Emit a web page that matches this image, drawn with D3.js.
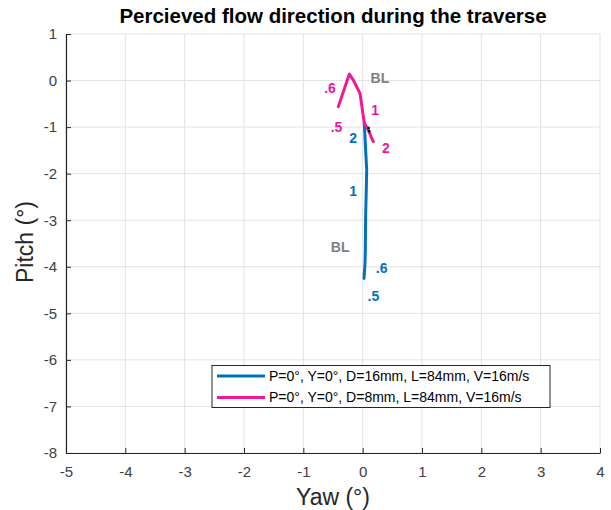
<!DOCTYPE html>
<html>
<head>
<meta charset="utf-8">
<script src="https://cdn.jsdelivr.net/npm/d3@7"></script>
<style>
  html, body { margin: 0; padding: 0; background: #fff; }
  svg { display: block; font-family: "Liberation Sans", Arial, Helvetica, sans-serif; }
</style>
</head>
<body>
<svg id="chart" width="611" height="510"></svg>
<script>
// Flow direction traces (yaw, pitch in degrees)
const series16Yaw   = [0.028, 0.05, 0.068, 0.06, 0.05, 0.045, 0.04, 0.023];
const series16Pitch = [-0.92, -1.49, -1.92, -2.4, -2.92, -3.64, -3.92, -4.25];
const series8Yaw    = [-0.41, -0.225, -0.158, -0.045, 0.028, 0.095, 0.152, 0.18];
const series8Pitch  = [-0.56, 0.14, 0.012, -0.274, -0.92, -1.06, -1.24, -1.31];

const seriesNames  = ["P=0°, Y=0°, D=16mm, L=84mm, V=16m/s", "P=0°, Y=0°, D=8mm, L=84mm, V=16m/s"];
const seriesColors = ["#0072bd", "#f0189a"];

// Small black markers near the start of the traverse
const markerYaw   = [0.1, 0.11];
const markerPitch = [-1.02, -1.09];

// Annotations along the traces
const annoText  = [".6", "BL", "1", ".5", "2", "2", "1", "BL", ".6", ".5"];
const annoYaw   = [-0.55, 0.29, 0.21, -0.44, -0.16, 0.39, -0.16, -0.38, 0.32, 0.18];
const annoPitch = [-0.17, 0.05, -0.63, -0.99, -1.24, -1.455, -2.37, -3.57, -4.03, -4.64];
const annoKind  = ["p", "g", "p", "p", "b", "p", "b", "g", "b", "b"];

const xTicks = [-5, -4, -3, -2, -1, 0, 1, 2, 3, 4];
const yTicks = [1, 0, -1, -2, -3, -4, -5, -6, -7, -8];

const svg = d3.select("#chart");
const m = { left: 66, right: 600, top: 34, bottom: 453 };

const x = d3.scaleLinear().domain([-5, 4]).range([m.left, m.right]);
const y = d3.scaleLinear().domain([-8, 1]).range([m.bottom, m.top]);

// grid
const grid = svg.append("g");
grid.selectAll("line.gx").data(xTicks).join("line")
  .attr("x1", d => x(d)).attr("x2", d => x(d))
  .attr("y1", m.top).attr("y2", m.bottom)
  .attr("stroke", "#e3e3e3").attr("stroke-width", 1);
grid.selectAll("line.gy").data(yTicks).join("line")
  .attr("x1", m.left).attr("x2", m.right)
  .attr("y1", d => y(d)).attr("y2", d => y(d))
  .attr("stroke", "#e3e3e3").attr("stroke-width", 1);

// axes
const axColor = "#262626";
const fmt = d => String(d);
const xAxis = svg.append("g").attr("transform", `translate(0,${m.bottom})`)
  .call(d3.axisBottom(x).tickValues(xTicks).tickSizeInner(-5).tickSizeOuter(0).tickPadding(10).tickFormat(fmt));
const yAxis = svg.append("g").attr("transform", `translate(${m.left},0)`)
  .call(d3.axisLeft(y).tickValues(yTicks).tickSizeInner(-5).tickSizeOuter(0).tickPadding(9).tickFormat(fmt));
[xAxis, yAxis].forEach(a => {
  a.select(".domain").attr("stroke", axColor).attr("stroke-width", 1.2);
  a.selectAll(".tick line").attr("stroke", axColor);
  a.selectAll(".tick text").attr("fill", "#404040").style("font-size", "15px")
    .style("font-family", "Liberation Sans, Arial, sans-serif");
});
xAxis.selectAll(".tick text").attr("dy", "0.9em");

// traces
const line = d3.line().x(d => x(d[0])).y(d => y(d[1]));
const data16 = series16Yaw.map((v, i) => [v, series16Pitch[i]]);
const data8  = series8Yaw.map((v, i) => [v, series8Pitch[i]]);
svg.append("path").datum(data16).attr("d", line)
  .attr("fill", "none").attr("stroke", seriesColors[0]).attr("stroke-width", 3)
  .attr("stroke-linejoin", "round").attr("stroke-linecap", "round");
svg.append("path").datum(data8).attr("d", line)
  .attr("fill", "none").attr("stroke", seriesColors[1]).attr("stroke-width", 3)
  .attr("stroke-linejoin", "round").attr("stroke-linecap", "round");

svg.selectAll("circle.mk").data(markerYaw).join("circle")
  .attr("cx", (d, i) => x(d)).attr("cy", (d, i) => y(markerPitch[i]))
  .attr("r", 1.3).attr("fill", "#000");

// annotations
const kindColor = { p: seriesColors[1], b: seriesColors[0], g: "#808080" };
svg.selectAll("text.anno").data(annoText).join("text")
  .attr("x", (d, i) => x(annoYaw[i])).attr("y", (d, i) => y(annoPitch[i]))
  .attr("text-anchor", "middle").attr("dy", "0.35em")
  .attr("fill", (d, i) => kindColor[annoKind[i]])
  .style("font-weight", "bold").style("font-size", "14px")
  .text(d => d);

// title and axis labels
svg.append("text").attr("x", 333).attr("y", 23).attr("text-anchor", "middle")
  .style("font-weight", "bold").style("font-size", "20.5px").attr("fill", "#000")
  .text("Percieved flow direction during the traverse");
svg.append("text").attr("x", 333).attr("y", 505).attr("text-anchor", "middle")
  .style("font-size", "23px").attr("fill", "#262626").text("Yaw (°)");
svg.append("text").attr("transform", "translate(33,242) rotate(-90)").attr("text-anchor", "middle")
  .style("font-size", "23px").attr("fill", "#262626").text("Pitch (°)");

// legend
const lg = svg.append("g");
lg.append("rect").attr("x", 212).attr("y", 365.5).attr("width", 338).attr("height", 42)
  .attr("fill", "#fff").attr("stroke", "#262626").attr("stroke-width", 1);
seriesNames.forEach((name, i) => {
  const yy = 376 + i * 21.5;
  lg.append("line").attr("x1", 217).attr("x2", 265).attr("y1", yy).attr("y2", yy)
    .attr("stroke", seriesColors[i]).attr("stroke-width", 3);
  lg.append("text").attr("x", 269).attr("y", yy).attr("dy", "0.35em")
    .style("font-size", "14px").attr("fill", "#000").text(name);
});
</script>
</body>
</html>
